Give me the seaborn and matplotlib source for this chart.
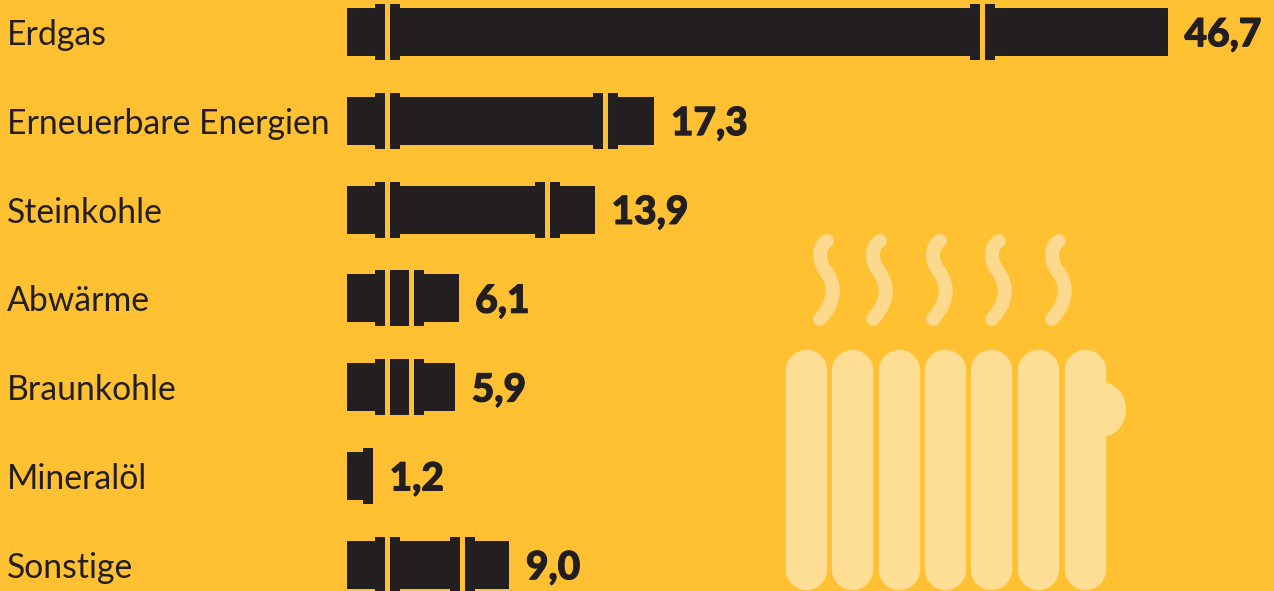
import pandas as pd
import seaborn as sns
import matplotlib.pyplot as plt
import matplotlib.patheffects as pe
from matplotlib.patches import Ellipse, PathPatch, Rectangle
from matplotlib.path import Path

energy = ['Erdgas', 'Erneuerbare Energien', 'Steinkohle', 'Abwärme', 'Braunkohle', 'Mineralöl', 'Sonstige']
share = [46.7, 17.3, 13.9, 6.1, 5.9, 1.2, 9.0]
# where the pipe joints sit on each bar, in the same units as share
joints = [[2.03, 36.1], [2.03, 14.5], [2.03, 11.2], [2.03, 3.4], [2.03, 3.4], [], [2.03, 6.3]]

BG = '#FFC132'
DARK = '#231F20'
LIGHT = '#FEDD95'
STEAM = '#FCD98D'
PX = 17.47  # pixels per unit on the x axis


def draw_fittings(ax):
    for i, (value, js) in enumerate(zip(share, joints)):
        ax.add_patch(Rectangle((-5 / PX, i - 0.27), 5 / PX, 0.54, color=DARK, lw=0, zorder=3))
        for j in js:
            ax.add_patch(Rectangle((j - 12.5 / PX, i - 0.315), 25 / PX, 0.63, color=DARK, lw=0, zorder=3))
        for j in js:
            ax.add_patch(Rectangle((j - 2.5 / PX, i - 0.34), 5 / PX, 0.68, color=BG, lw=0, zorder=4))
        if not js:
            ax.add_patch(Rectangle((value - 10 / PX, i - 0.315), 10 / PX, 0.63, color=DARK, lw=0, zorder=3))


def draw_radiator(fig):
    deco = fig.add_axes([0, 0, 1, 1], facecolor='none')
    deco.set_xlim(0, 1274)
    deco.set_ylim(591, 0)
    deco.axis('off')
    deco.add_patch(Ellipse((1104, 409.5), 44, 53, color=LIGHT, lw=0))
    for x in [805.5, 852, 898.5, 944.5, 991, 1038, 1084.5]:
        deco.plot([x, x], [370, 569], color=LIGHT, lw=29.8, solid_capstyle='round')
    codes = [Path.MOVETO] + [Path.CURVE4] * 9
    for dx in [0, 53, 113, 172, 232]:
        verts = [(827, 241), (817, 247), (819, 262), (825, 270), (832, 279),
                 (835, 290), (831, 301), (829, 308), (825, 313), (820, 319)]
        path = Path([(x + dx, y) for x, y in verts], codes)
        deco.add_patch(PathPatch(path, fill=False, edgecolor=STEAM, lw=10, capstyle='round'))


def main():
    df = pd.DataFrame({'energy': energy, 'share': share})
    labels = [f'{v:.1f}'.replace('.', ',') for v in share]

    fig = plt.figure(figsize=(12.74, 5.91), dpi=100, facecolor=BG)
    ax = fig.add_axes([0, 0, 1, 1], facecolor=BG)
    sns.barplot(data=df, y='energy', x='share', color=DARK, saturation=1, width=0.54, orient='h', ax=ax)

    ax.set_xlim(-352 / PX, (1274 - 352) / PX)
    ax.set_ylim(6.293, -0.36)
    ax.set_xlabel('')
    ax.set_ylabel('')
    ax.set_xticks([])
    sns.despine(ax=ax, left=True, bottom=True)
    ax.tick_params(axis='y', length=0, pad=-5)
    for t in ax.get_yticklabels():
        t.set_ha('left')
        t.set_fontsize(24.3)
        t.set_fontfamily('Lato')
        t.set_color(DARK)

    texts = ax.bar_label(ax.containers[0], labels=labels, padding=12, fontsize=28, fontweight='black',
                         family='Lato', color=DARK)
    for t in texts:
        t.xyann = (t.xyann[0], t.xyann[1] - 2)
        t.set_path_effects([pe.withStroke(linewidth=0.8, foreground=DARK)])
    draw_fittings(ax)
    draw_radiator(fig)

    fig.savefig('out.png', dpi=100, facecolor=BG)


if __name__ == '__main__':
    main()
